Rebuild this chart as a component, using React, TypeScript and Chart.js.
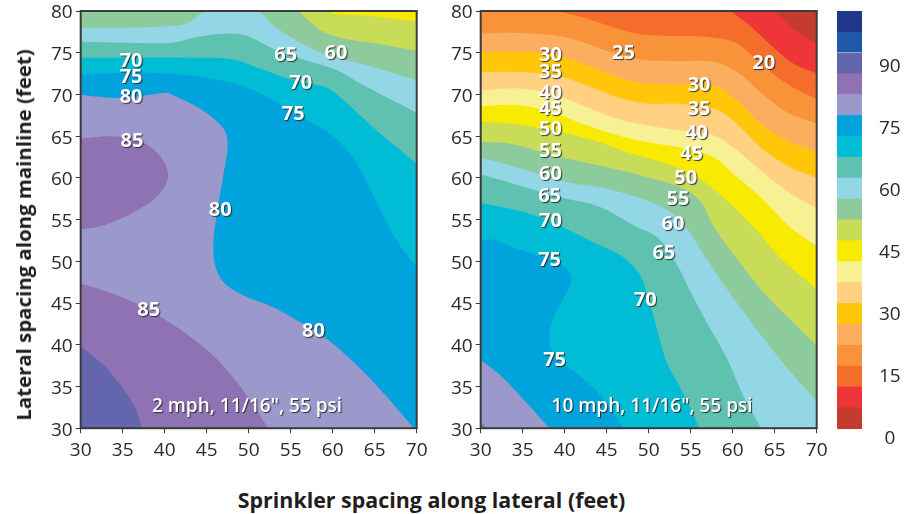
import React, { useEffect, useRef } from "react";
import { Chart, registerables } from "chart.js";

Chart.register(...registerables);

type Pt = [number, number];
type Lab = [string, number, number];

const FONT = '"Open Sans", sans-serif';
const INK = "#2b2a2b";

const AXIS_X = [30, 35, 40, 45, 50, 55, 60, 65, 70];
const AXIS_Y = [30, 35, 40, 45, 50, 55, 60, 65, 70, 75, 80];
const X_TITLE = "Sprinkler spacing along lateral (feet)";
const Y_TITLE = "Lateral spacing along mainline (feet)";

const BAND_COLORS = [
  "#c43c2e", "#ee3537", "#f56d2a", "#f99339", "#fcae5f", "#ffc60a", "#ffd180", "#f8f193", "#f8ea00", "#c8dc58",
  "#8dcb9c", "#93d6e5", "#5fc2b0", "#00bcd4", "#00a3dc", "#9b98cb", "#8f72b3", "#6366ac", "#1f58a8", "#1f3887",
];
const BAND_SIZES = [5, 5, 5, 5, 5, 5, 5, 5, 5, 5, 5, 5, 5, 5, 5, 5, 5, 5, 5, 5];
const BAR_TICKS = [0, 15, 30, 45, 60, 75, 90];

// Left panel contours, 2 mph
const left_full: Pt[] = [[30, 80], [70, 80]];
const left_c1: Pt[] = [[59.3, 80], [60.5, 79.6], [63.3, 79.5], [70, 78.8]];
const left_c2: Pt[] = [[55.9, 80], [57.3, 78.7], [58.9, 77.5], [61.3, 76.7], [65.2, 76.1], [70, 75.2]];
const left_c3: Pt[] = [[30, 78], [35.5, 78], [40.6, 78.2], [42.6, 78.5], [45, 80], [51, 80], [52.9, 78.3], [55.3, 76.7], [59.3, 74.7], [63.3, 73.7], [70, 71.7]];
const left_c4: Pt[] = [[30, 76.3], [35.5, 76.2], [41, 76.2], [43.4, 76.8], [47.4, 77.3], [49.8, 77], [52.9, 75.5], [56.1, 74.3], [60.5, 72.9], [63.3, 71.3], [70, 67.8]];
const left_c5: Pt[] = [[30, 74.4], [35.5, 74.4], [43.4, 74.4], [48.2, 74.2], [51.3, 73.1], [55.3, 71.7], [59.3, 70.8], [61.3, 69.3], [65.2, 65.7], [70, 61.7]];
const left_c6: Pt[] = [[30, 72.4], [35.5, 72.6], [40.6, 72.5], [45.4, 71.9], [49.8, 70.8], [53.3, 69.1], [56.9, 66.9], [59.7, 65.3], [61.7, 63.3], [63.3, 60.9], [66.6, 54.3], [68, 51.9], [70, 49.3]];
const left_c7: Pt[] = [[30, 70], [32.3, 69.7], [35.5, 69.6], [40.2, 70.2], [41, 69.9], [44.2, 68.3], [47, 65.9], [47.5, 63.9], [47, 60.5], [46, 54.3], [45.8, 51.9], [46, 49.5], [47, 47.5], [49.4, 45.9], [52.9, 44.5], [56.5, 42.5], [59.3, 40.7], [62.5, 37.9], [65.6, 34.7], [68.8, 31], [69.6, 30]];
const left_c8a: Pt[] = [[30, 64.7], [33.5, 65], [36.7, 64.5], [39, 63.1], [40.4, 60.5], [39.4, 58.1], [36.7, 56.1], [32.7, 54.3], [30, 53.8]];
const left_c8b: Pt[] = [[30, 47.3], [32.7, 46.5], [36.7, 44.9], [40.2, 42.9], [43.4, 40.7], [46.2, 38.3], [48.6, 35.5], [50.6, 32.7], [52.3, 30]];
const left_c9: Pt[] = [[30, 39.8], [32.7, 37.6], [34.7, 35.2], [36.3, 32.8], [37.3, 30]];

// Right panel contours, 10 mph
const right_full: Pt[] = [[30, 80], [70, 80]];
const right_c1: Pt[] = [[65, 80], [67.2, 77.9], [70, 76.1]];
const right_c2: Pt[] = [[59.7, 80], [62, 78.3], [64.8, 75.7], [67.2, 73.7], [70, 72.5]];
const right_c3: Pt[] = [[39, 80], [42.6, 79.1], [46.2, 77.9], [49, 77.2], [52.9, 77], [56.9, 76.9], [60.5, 76.1], [63.3, 73.7], [66.4, 71.3], [70, 69.4]];
const right_c4: Pt[] = [[30, 77.3], [33.5, 77.4], [38.7, 77.1], [41.4, 76.5], [45.4, 75.1], [49, 74.2], [52.9, 74], [57.7, 73.9], [60.5, 72.7], [63.3, 70.3], [66.4, 67.9], [70, 66.5]];
const right_c5: Pt[] = [[30, 75.1], [34.7, 75.1], [39, 74.8], [42.6, 73.5], [46.2, 72.1], [49.4, 71.3], [52.9, 71.2], [57.7, 71.1], [60.5, 69.3], [63.3, 66.5], [66.4, 64.5], [70, 63.1]];
const right_c6: Pt[] = [[30, 72.7], [34.7, 72.7], [39, 72.3], [42.6, 71.1], [46.2, 69.7], [49.8, 68.9], [52.9, 68.9], [57.7, 68.3], [60.5, 66.5], [63.3, 63.7], [66.4, 61.5], [70, 60]];
const right_c7: Pt[] = [[30, 70.5], [34.7, 70.7], [39, 69.9], [42.6, 68.5], [46.2, 67.1], [49.8, 66.3], [53.3, 65.7], [57.7, 65.1], [60.5, 63.3], [63.3, 60.9], [66.4, 58.5], [70, 56.3]];
const right_c8: Pt[] = [[30, 68.6], [34.7, 68.7], [39, 67.7], [42.6, 66.3], [47, 64.9], [51, 64.1], [54.6, 63.5], [57.7, 62.5], [60.5, 60.1], [63.3, 57.7], [66.6, 54.3], [70, 51.8]];
const right_c9: Pt[] = [[30, 66.7], [33.9, 66.5], [39.4, 65.5], [43.4, 64.5], [47.4, 63.1], [52.1, 61.7], [55.7, 60.1], [59.3, 57.3], [62.5, 54.1], [65.6, 50.5], [70, 46.7]];
const right_c10: Pt[] = [[30, 64.3], [33.5, 64.1], [39.4, 62.5], [45, 61.3], [49.8, 60.1], [53.7, 58.9], [56.1, 57.3], [57.7, 54.3], [60.5, 50.3], [64, 45.9], [67.2, 42.7], [70, 39.9]];
const right_c11: Pt[] = [[30, 62.4], [33.5, 61.5], [39.4, 59.7], [45, 58.7], [49.8, 57.3], [52.9, 55.7], [54.1, 54.3], [54.9, 53.5], [56.1, 51.5], [57.7, 49.1], [59.3, 46.7], [62.5, 42.3], [65.6, 38.3], [70, 33.2]];
const right_c12: Pt[] = [[30, 60.4], [33.9, 59.3], [39.4, 57.7], [44.2, 56.5], [48.2, 54.3], [51, 52.9], [53.3, 49.7], [54.9, 46.5], [56.9, 42.7], [59.3, 38.4], [61.3, 33.8], [63.4, 30]];
const right_c13: Pt[] = [[30, 57], [33.5, 56.3], [37.1, 55.3], [39.4, 54.3], [43.4, 52.3], [47, 50.5], [49, 48.3], [50.2, 44.7], [51.2, 41.1], [52.1, 38], [53.8, 34.8], [55, 32.4], [56, 30]];
const right_c14: Pt[] = [[30, 52.5], [31.5, 52.6], [34.3, 51.5], [37.9, 50.3], [40.2, 49.1], [40.8, 47.7], [39.8, 45.5], [38.6, 43.1], [38.2, 40.3], [39, 38.4], [41.4, 36.6], [44.2, 34], [47, 30]];
const right_c15: Pt[] = [[30, 38.2], [32.7, 36], [35.5, 33], [38.2, 30]];
const right_c16: Pt[] = [[30, 30.8], [30.7, 30]];

const leftLayers: [Pt[], string][] = [
  [left_full, "#f8ea00"], [left_c1, "#c8dc58"], [left_c2, "#8dcb9c"], [left_c3, "#93d6e5"], [left_c4, "#5fc2b0"],
  [left_c5, "#00bcd4"], [left_c6, "#00a3dc"], [left_c7, "#9b98cb"], [left_c8a, "#8f72b3"], [left_c8b, "#8f72b3"], [left_c9, "#6366ac"],
];
const rightLayers: [Pt[], string][] = [
  [right_full, "#c43c2e"], [right_c1, "#ee3537"], [right_c2, "#f56d2a"], [right_c3, "#f99339"], [right_c4, "#fcae5f"],
  [right_c5, "#ffc60a"], [right_c6, "#ffd180"], [right_c7, "#f8f193"], [right_c8, "#f8ea00"], [right_c9, "#c8dc58"],
  [right_c10, "#8dcb9c"], [right_c11, "#93d6e5"], [right_c12, "#5fc2b0"], [right_c13, "#00bcd4"], [right_c14, "#00a3dc"],
  [right_c15, "#9b98cb"], [right_c16, "#8f72b3"],
];

const leftLabels: Lab[] = [
  ["70", 36, 74.1], ["75", 36, 72.2], ["80", 36, 69.8], ["85", 36.1, 64.5], ["80", 46.6, 56.2], ["65", 54.4, 74.8],
  ["60", 60.4, 75.1], ["70", 56.2, 71.4], ["75", 55.3, 67.7], ["85", 38.1, 44.3], ["80", 57.7, 41.7],
];
const rightLabels: Lab[] = [
  ["30", 38.3, 74.8], ["35", 38.3, 72.8], ["40", 38.3, 70.3], ["45", 38.3, 68.3], ["50", 38.3, 65.9], ["55", 38.3, 63.3],
  ["60", 38.3, 60.5], ["65", 38.2, 57.9], ["70", 38.3, 54.9], ["25", 47, 75.1], ["20", 63.7, 73.9], ["30", 56, 71.2],
  ["35", 56, 68.3], ["40", 55.7, 65.5], ["45", 55.1, 62.9], ["50", 54.4, 60.1], ["55", 53.5, 57.6], ["60", 52.9, 54.6],
  ["65", 51.8, 51.1], ["75", 38.2, 50.2], ["70", 49.6, 45.5], ["75", 38.8, 38.2],
];
const leftCaption: Lab = ['2 mph, 11/16", 55 psi', 49.8, 32.7];
const rightCaption: Lab = ['10 mph, 11/16", 55 psi', 50.4, 32.7];

function panelPlugins(labels: Lab[], caption: Lab) {
  return [
    {
      id: "regionFill",
      beforeDatasetDraw(chart: any, args: any) {
        const { ctx, chartArea: a, scales } = chart;
        const meta = args.meta;
        const line = meta.dataset;
        const pts: Pt[] = chart.data.datasets[args.index].data.map((d: any) => [d.x, d.y]);
        const first = pts[0];
        const last = pts[pts.length - 1];
        const X = (v: number) => scales.x.getPixelForValue(v);
        const Y = (v: number) => scales.y.getPixelForValue(v);
        ctx.save();
        ctx.beginPath();
        ctx.rect(a.left, a.top, a.right - a.left, a.bottom - a.top);
        ctx.clip();
        line.updateControlPoints(a, "x");
        ctx.beginPath();
        line.path(ctx);
        if (!(first[0] === 30 && last[0] === 30)) {
          if (last[0] === 70) ctx.lineTo(X(70), Y(30));
          ctx.lineTo(X(30), Y(30));
          if (first[1] === 80) ctx.lineTo(X(30), Y(80));
        }
        ctx.closePath();
        ctx.fillStyle = chart.data.datasets[args.index].backgroundColor;
        ctx.fill();
        ctx.restore();
      },
    },
    {
      id: "contourText",
      afterDraw(chart: any) {
        const { ctx, chartArea: a, scales } = chart;
        ctx.save();
        ctx.strokeStyle = "#3a3a3a";
        ctx.lineWidth = 2;
        ctx.strokeRect(a.left, a.top, a.right - a.left, a.bottom - a.top);
        ctx.textAlign = "center";
        ctx.textBaseline = "middle";
        ctx.shadowColor = "rgba(30,30,30,0.85)";
        ctx.shadowOffsetX = 1;
        ctx.shadowOffsetY = 1;
        ctx.shadowBlur = 1;
        ctx.fillStyle = "#ffffff";
        ctx.font = `700 20px ${FONT}`;
        for (const [t, x, y] of labels) {
          ctx.fillText(t, scales.x.getPixelForValue(x), scales.y.getPixelForValue(y) + 1);
        }
        ctx.font = `600 19px ${FONT}`;
        ctx.fillText(caption[0], scales.x.getPixelForValue(caption[1]), scales.y.getPixelForValue(caption[2]) + 1);
        ctx.restore();
      },
    },
  ];
}

function panelConfig(layers: [Pt[], string][], labels: Lab[], caption: Lab, leftPad: number, rightPad: number, bottom: number): any {
  return {
    type: "line",
    data: {
      datasets: layers.map(([pts, color], i) => ({
        data: pts.map(([x, y]) => ({ x, y })),
        backgroundColor: color,
        borderWidth: 0,
        pointRadius: 0,
        tension: 0.35,
        fill: false,
        order: -i,
      })),
    },
    options: {
      animation: false,
      responsive: false,
      events: [],
      layout: { padding: { top: 11, right: rightPad, left: 0, bottom: 0 } },
      plugins: { legend: { display: false }, tooltip: { enabled: false }, title: { display: false } },
      scales: {
        x: {
          type: "linear",
          min: 30,
          max: 70,
          afterBuildTicks: (s: any) => { s.ticks = AXIS_X.map((value) => ({ value })); },
          afterFit: (s: any) => { s.height = bottom; s.paddingLeft = 0; s.paddingRight = 0; },
          grid: { drawOnChartArea: false, drawTicks: true, tickLength: 5, color: "#3a3a3a", lineWidth: 1 },
          border: { display: false },
          ticks: { color: INK, font: { family: FONT, size: 19 }, padding: 6, maxRotation: 0, autoSkip: false },
        },
        y: {
          type: "linear",
          min: 30,
          max: 80,
          afterBuildTicks: (s: any) => { s.ticks = AXIS_Y.map((value) => ({ value })); },
          afterFit: (s: any) => { s.width = leftPad; s.paddingTop = 0; s.paddingBottom = 0; },
          grid: { drawOnChartArea: false, drawTicks: true, tickLength: 5, color: "#3a3a3a", lineWidth: 1 },
          border: { display: false },
          ticks: { color: INK, font: { family: FONT, size: 19 }, padding: 3, labelOffset: 2, autoSkip: false },
        },
      },
    },
    plugins: panelPlugins(labels, caption),
  };
}

function barConfig(): any {
  return {
    type: "bar",
    data: {
      labels: ["scale"],
      datasets: BAND_COLORS.map((color, i) => ({
        data: [BAND_SIZES[i]],
        backgroundColor: color,
        borderWidth: i === 18 ? { bottom: 1 } : 0,
        borderColor: "#ffffff",
        borderSkipped: false,
        categoryPercentage: 1,
        barPercentage: 1,
        yAxisID: "y",
      })),
    },
    options: {
      animation: false,
      responsive: false,
      events: [],
      layout: { padding: { top: 11, bottom: 30, left: 0, right: 0 } },
      plugins: { legend: { display: false }, tooltip: { enabled: false } },
      scales: {
        x: { display: false, stacked: true },
        y: { display: false, stacked: true, min: -2.7, max: 100 },
        yt: {
          position: "right",
          min: -0.73,
          max: 103.07,
          afterBuildTicks: (s: any) => { s.ticks = BAR_TICKS.map((value) => ({ value })); },
          afterFit: (s: any) => { s.width = 43; s.paddingTop = 0; s.paddingBottom = 0; },
          grid: { display: false },
          border: { display: false },
          ticks: { color: INK, font: { family: FONT, size: 19 }, padding: 9, labelOffset: 2, crossAlign: "center", autoSkip: false },
        },
      },
    },
  };
}

export default function App() {
  const a = useRef<HTMLCanvasElement>(null);
  const b = useRef<HTMLCanvasElement>(null);
  const c = useRef<HTMLCanvasElement>(null);
  useEffect(() => {
    const charts = [
      new Chart(a.current!, panelConfig(leftLayers, leftLabels, leftCaption, 80.7, 13.3, 41.8)),
      new Chart(b.current!, panelConfig(rightLayers, rightLabels, rightCaption, 80.7, 13.3, 41.8)),
      new Chart(c.current!, barConfig()),
    ];
    return () => charts.forEach((ch) => ch.destroy());
  }, []);
  const abs = (left: number, top: number): React.CSSProperties => ({ position: "absolute", left, top, display: "block" });
  const titleFont: React.CSSProperties = { position: "absolute", fontFamily: FONT, fontWeight: 700, color: "#1f1d1e", whiteSpace: "nowrap", lineHeight: "24px" };
  return (
    <div style={{ position: "absolute", left: 0, top: 0, width: 905, height: 514, overflow: "hidden", background: "#fff" }}>
      <canvas ref={a} width={430} height={470} style={{ ...abs(0, 0), width: 430, height: 470 }} />
      <canvas ref={b} width={430} height={470} style={{ ...abs(400, 0), width: 430, height: 470 }} />
      <canvas ref={c} width={68} height={470} style={{ ...abs(837, 0), width: 68, height: 470 }} />
      <div style={{ ...titleFont, fontSize: 21.4, left: 431.5, top: 488, transform: "translateX(-50%)" }}>{X_TITLE}</div>
      <div style={{ ...titleFont, fontSize: 20.4, left: 23, top: 235, transform: "translate(-50%,-50%) rotate(-90deg)" }}>{Y_TITLE}</div>
    </div>
  );
}
